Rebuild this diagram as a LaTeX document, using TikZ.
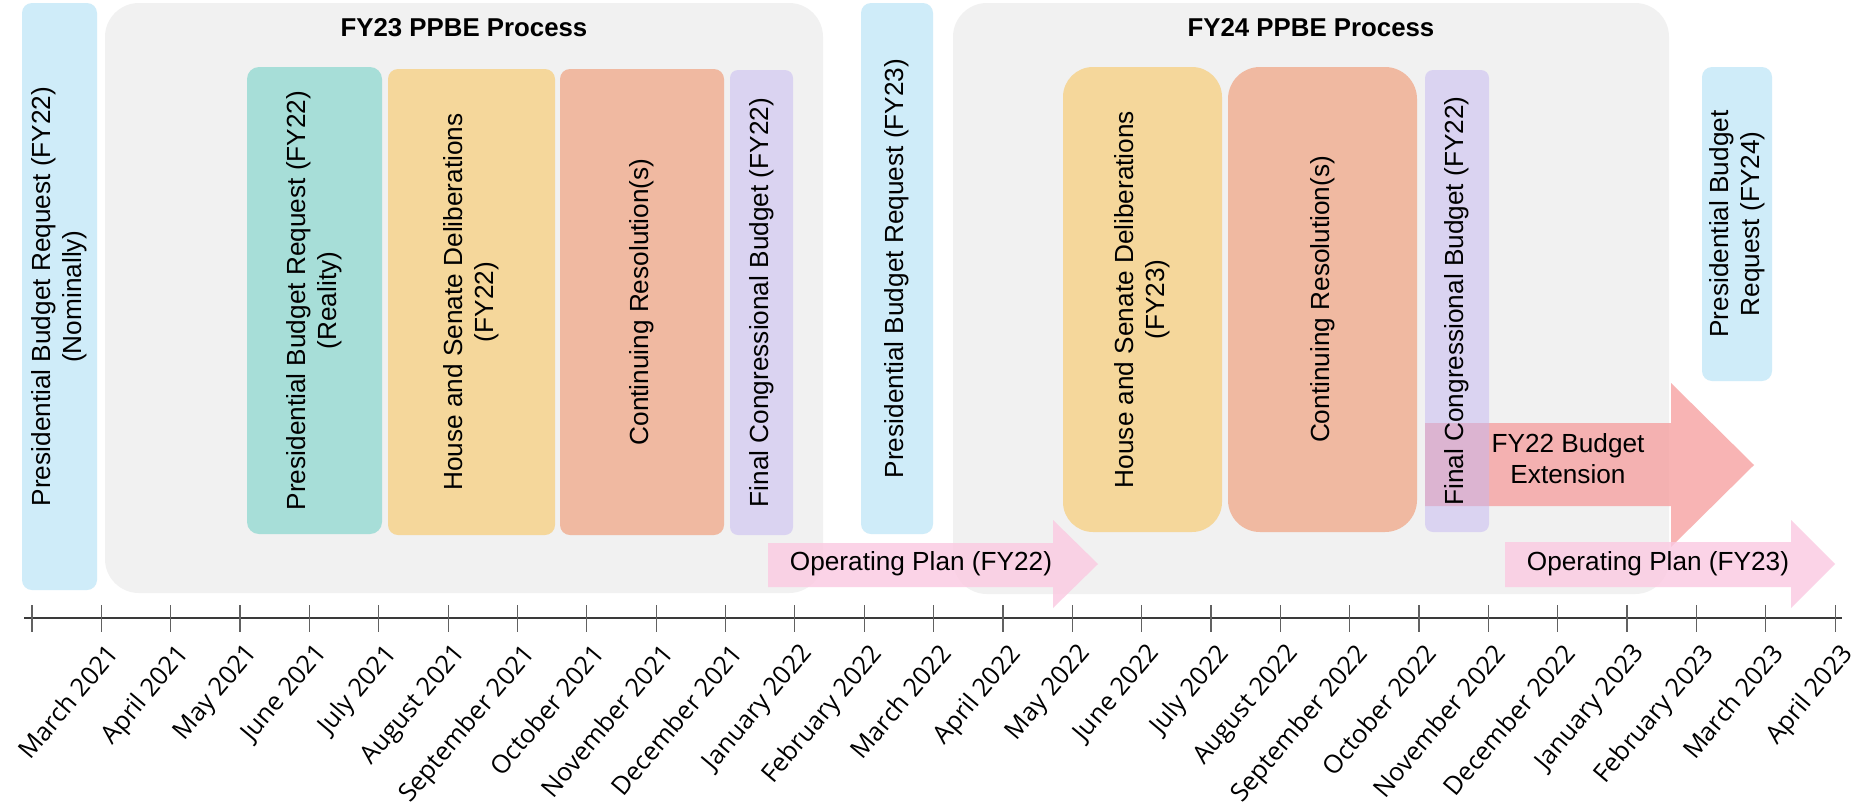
\documentclass[tikz,border=0pt]{standalone}
\usepackage{fontspec}
\setmainfont{Liberation Sans}
\newfontfamily\axisfont{Open Sans}
\definecolor{cBlue}{HTML}{CFECF9}
\definecolor{cGrey}{HTML}{F1F1F1}
\definecolor{cTeal}{HTML}{A7DED8}
\definecolor{cYellow}{HTML}{F5D79B}
\definecolor{cSalmon}{HTML}{F0B9A1}
\definecolor{cLav}{HTML}{C5B7F1}
\definecolor{cPink}{HTML}{FBC9E1}
\definecolor{cRed}{HTML}{F69C9C}
\definecolor{cAxis}{HTML}{3A3A3A}
\begin{document}
\begin{tikzpicture}[x=0.5pt,y=-0.5pt,
  rbox/.style={rectangle, draw=none, inner sep=0pt, rounded corners=#1},
  sz/.style 2 args={minimum width=#1*0.5pt, minimum height=#2*0.5pt},
  vtext/.style={rotate=90, align=center, inner sep=0pt, font=\fontsize{13.1}{15.5}\selectfont},
  htext/.style={align=center, inner sep=0pt, font=\fontsize{13.1}{15.5}\selectfont},
  title/.style={inner sep=0pt, font=\fontsize{12.9}{15}\selectfont\bfseries},
  axl/.style={inner sep=0pt, rotate=50, anchor=north east, font=\axisfont\fontsize{12.7}{14}\selectfont},
  tickline/.style={draw=cAxis!80, line width=0.6pt},
  pinkarrow/.style={fill=cPink, fill opacity=0.8},
  redarrow/.style={fill=cRed, fill opacity=0.75}]
\useasboundingbox (0,0) rectangle (1859,804);
\fill[white] (0,0) rectangle (1859,804);

% background process boxes
\node[rbox=5pt, fill=cBlue, sz={75}{587}] (nomBlue) at (59.5,296.5) {};
\node[rbox=17pt, fill=cGrey, sz={718}{590}] (grey23) at (464,298) {};
\node[rbox=17pt, fill=cGrey, sz={716}{591}] (grey24) at (1311,298.5) {};

% FY23 process steps
\node[rbox=6pt, fill=cTeal, sz={135}{467}] (teal) at (314.5,300.5) {};
\node[rbox=5pt, fill=cYellow, sz={167}{466}] (yel1) at (471.5,302) {};
\node[rbox=5pt, fill=cSalmon, sz={164}{466}] (sal1) at (642,302) {};

\node[rbox=5pt, fill=cBlue, sz={72}{531}] (blue23) at (897,268.5) {};

% FY24 process steps
\node[rbox=15pt, fill=cYellow, sz={159}{465}] (yel2) at (1142.5,299.5) {};
\node[rbox=16pt, fill=cSalmon, sz={189}{465}] (sal2) at (1322.5,299.5) {};
\node[rbox=5pt, fill=cBlue, sz={70}{314}] (blue24) at (1737,224) {};

% arrows
\fill[pinkarrow] (768,543) -- (1053,543) -- (1053,520) -- (1098,564) -- (1053,608) -- (1053,587) -- (768,587) -- cycle;
\fill[redarrow] (1425,423) -- (1671,423) -- (1671,383) -- (1754,465) -- (1671,547) -- (1671,506) -- (1425,506) -- cycle;
\fill[pinkarrow] (1505,542) -- (1791,542) -- (1791,520) -- (1835,564) -- (1791,608) -- (1791,587) -- (1505,587) -- cycle;

% final budget boxes (semi-transparent)
\node[rbox=4pt, fill=cLav, fill opacity=0.5, sz={63}{465}] (lav1) at (761.5,302.5) {};
\node[rbox=4pt, fill=cLav, fill opacity=0.5, sz={64}{462}] (lav2) at (1457,301) {};

% titles
\node[title] (t23) at (464,27.5) {FY23 PPBE Process};
\node[title] (t24) at (1311,27.5) {FY24 PPBE Process};

% texts
\node[vtext] (nomBlueT) at (nomBlue.center) {Presidential Budget Request (FY22)\\(Nominally)};
\node[vtext] (tealT) at (teal.center) {Presidential Budget Request (FY22)\\(Reality)};
\node[vtext] (yel1T) at (yel1.center) {House and Senate Deliberations\\(FY22)};
\node[vtext] (sal1T) at (sal1.center) {Continuing Resolution(s)};
\node[vtext] (lav1T) at (lav1.center) {Final Congressional Budget (FY22)};
\node[vtext] (blue23T) at (blue23.center) {Presidential Budget Request (FY23)};
\node[vtext] (yel2T) at (yel2.center) {House and Senate Deliberations\\(FY23)};
\node[vtext] (sal2T) at (sal2.center) {Continuing Resolution(s)};
\node[vtext] (lav2T) at (lav2.center) {Final Congressional Budget (FY22)};
\node[vtext] (blue24T) at (blue24.center) {Presidential Budget\\Request (FY24)};
\node[htext] (op22T) at (921,564) {Operating Plan (FY22)};
\node[htext] (op23T) at (1658,564) {Operating Plan (FY23)};
\node[htext] (extT) at (1568,459) {FY22 Budget\\Extension};

% time axis
\coordinate (axL) at (24,618);
\coordinate (axR) at (1842,618);
\draw[cAxis, line width=1pt] (axL) -- (axR);
\foreach \i in {0,...,26} {
  \draw[tickline] ({32+69.35*\i},605) -- ({32+69.35*\i},632);
}
\foreach \i/\m in {1/March 2021, 2/April 2021, 3/May 2021, 4/June 2021, 5/July 2021,
  6/August 2021, 7/September 2021, 8/October 2021, 9/November 2021, 10/December 2021,
  11/January 2022, 12/February 2022, 13/March 2022, 14/April 2022, 15/May 2022,
  16/June 2022, 17/July 2022, 18/August 2022, 19/September 2022, 20/October 2022,
  21/November 2022, 22/December 2022, 23/January 2023, 24/February 2023,
  25/March 2023, 26/April 2023} {
  \node[axl] (m\i) at ({32+69.35*\i+4},641) {\m};
}
\end{tikzpicture}
\end{document}
